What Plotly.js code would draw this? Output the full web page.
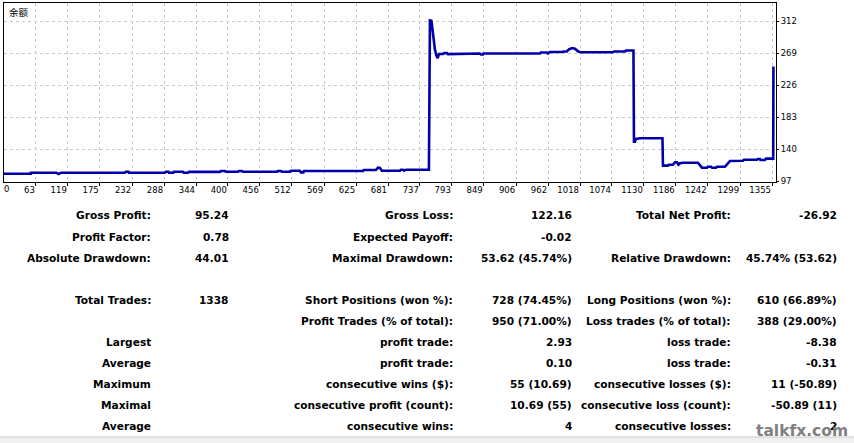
<!DOCTYPE html>
<html>
<head>
<meta charset="utf-8">
<script src="https://cdn.plot.ly/plotly-3.0.1.min.js"></script>
<style>html,body{margin:0;padding:0;background:#fff;}#chart{width:854px;height:443px;}</style>
</head>
<body>
<div id="chart"></div>
<script>
// ---- chart data (trade number, balance) ----
const balanceX = [7,54.2,54.2,99.0,102.5,107.8,219.2,221.0,225.4,226.2,289.4,291.2,295.6,296.5,304.4,305.2,321.0,322.8,329.8,331.6,386.0,387.7,394.7,396.5,417.6,419.3,424.6,426.3,486.0,487.8,493.0,494.8,508.8,510.6,526.4,528.2,532.5,533.4,637.0,638.7,659.8,663.3,666.8,670.3,702.0,703.7,707.2,709.0,712.5,752.8,754.6,757.2,758.1,759.9,761.6,763.4,766.0,768.1,770.4,777.4,779.2,784.4,786.2,821.3,823.1,842.4,844.1,847.7,848.5,947.7,949.4,960.0,961.7,965.2,986.3,989.8,995.0,998.6,1003.8,1009.1,1014.4,1017.9,1075.8,1077.6,1096.9,1098.7,1111.8,1112.7,1114.5,1116.2,1123.3,1162.7,1163.6,1172.4,1174.1,1181.1,1184.7,1188.2,1190.8,1193.5,1198.7,1225.0,1226.8,1232.1,1240.9,1242.6,1247.9,1249.7,1256.7,1258.4,1272.5,1276.0,1281.3,1304.0,1305.7,1328.6,1330.3,1333.8,1334.7,1342.6,1344.3,1357.1,1357.5];
const balanceY = [107.2,107.2,108.6,108.6,106.8,108.6,108.6,109.9,109.9,108.6,108.6,109.9,109.9,108.6,108.6,109.9,109.9,108.6,108.6,109.7,109.7,110.8,110.8,109.9,109.9,110.8,110.8,109.9,109.9,110.8,110.8,109.9,109.9,111.2,111.2,109.0,109.0,110.8,110.8,112.2,112.2,115.3,114.9,111.2,111.2,112.6,112.6,111.2,112.6,112.6,312.8,312.4,307.0,295.9,282.4,273.4,265.4,262.3,267.7,267.7,269.0,269.0,267.7,267.7,268.5,268.5,267.1,267.1,268.5,268.5,269.8,269.8,268.5,270.4,270.4,271.2,271.2,274.1,275.7,274.8,271.4,270.2,270.2,271.2,271.2,272.5,272.5,150.2,150.2,153.8,154.8,154.8,118.0,118.0,119.3,119.3,122.5,122.5,119.3,121.2,122.0,122.0,120.2,115.3,115.3,116.6,116.6,115.3,115.3,116.6,116.6,120.2,124.3,124.7,126.0,126.0,126.9,126.9,125.6,125.6,127.4,127.4,251.0];

const xTickVals = [63,119,175,232,288,344,400,456,512,569,625,681,737,793,849,906,962,1018,1074,1130,1186,1242,1299,1355];
const xTickText = ["63","119","175","232","288","344","400","456","512","569","625","681","737","793","849","906","962","1018","1074","1130","1186","1242","1299","1355"];
const xZeroLabel = ["0"];
const yTickVals = [97,140,183,226,269,312];
const yTickText = ["97","140","183","226","269","312"];
const chartTitle = "余额";

// ---- report table ----
const col1Labels = ["Gross Profit:","Profit Factor:","Absolute Drawdown:","","Total Trades:","","Largest","Average","Maximum","Maximal","Average"];
const col1Values = ["95.24","0.78","44.01","","1338","","","","","",""];
const col2Labels = ["Gross Loss:","Expected Payoff:","Maximal Drawdown:","","Short Positions (won %):","Profit Trades (% of total):","profit trade:","profit trade:","consecutive wins ($):","consecutive profit (count):","consecutive wins:"];
const col2Values = ["122.16","-0.02","53.62 (45.74%)","","728 (74.45%)","950 (71.00%)","2.93","0.10","55 (10.69)","10.69 (55)","4"];
const col3Labels = ["Total Net Profit:","","Relative Drawdown:","","Long Positions (won %):","Loss trades (% of total):","loss trade:","loss trade:","consecutive losses ($):","consecutive loss (count):","consecutive losses:"];
const col3Values = ["-26.92","","45.74% (53.62)","","610 (66.89%)","388 (29.00%)","-8.38","-0.31","11 (-50.89)","-50.89 (11)","2"];
const watermark = "talkfx.com";

// ---- layout helpers (pixel -> paper) ----
const PL = 4, PR = 776, PT = 3, PB = 182;
const px = v => (v - PL) / (PR - PL);
const py = v => (PB - v) / (PB - PT);

const tableFont = {family: "DejaVu Sans", size: 10.6, color: "#000", weight: "bold"};
const rowY = [215.5,236.5,257.5,278.5,299.5,320.5,341.5,362.5,383.5,404.5,425.5];
const colRight = [152,230,454,573,732,838];
const cols = [col1Labels,col1Values,col2Labels,col2Values,col3Labels,col3Values];

const annotations = [];
cols.forEach((col, ci) => {
  col.forEach((t, ri) => {
    if (!t) return;
    annotations.push({xref:"paper", yref:"paper", x: px(colRight[ci]+1), y: py(rowY[ri]),
      xanchor:"right", yanchor:"middle", showarrow:false, text:t, font:tableFont});
  });
});
annotations.push({xref:"paper", yref:"paper", x: px(7), y: py(12), xanchor:"left", yanchor:"middle",
  showarrow:false, text: chartTitle, font:{family:"Noto Sans CJK SC", size:9.5, color:"#000"}});
annotations.push({xref:"paper", yref:"paper", x: px(850), y: py(431), xanchor:"right", yanchor:"middle",
  showarrow:false, text: watermark, font:{family:"DejaVu Sans", size:15.5, color:"#808080", weight:"bold"}});

const axisFont = {family:"DejaVu Sans", size:8.5, color:"#000"};
const xRange = [7, 1362];

const traces = [
  {x: balanceX, y: balanceY, type:"scatter", mode:"lines", line:{color:"#0000aa", width:2.6}, hoverinfo:"skip"},
  {x: [], y: [], xaxis:"x2", type:"scatter", mode:"lines", hoverinfo:"skip"}
];

const layout = {
  width: 854, height: 443,
  margin: {l: PL, r: 854-PR, t: PT, b: 443-PB, pad: 0},
  paper_bgcolor:"#fff", plot_bgcolor:"#fff",
  showlegend:false,
  xaxis: {range: xRange, tickvals: xTickVals, ticktext: xTickText, ticks:"outside", ticklen:3, tickcolor:"#000",
    showline:true, linecolor:"#000", linewidth:1, mirror:true, showgrid:true, gridcolor:"#c8c8c8",
    griddash:"3px,3px", gridwidth:1, zeroline:false, tickfont: axisFont, ticklabelposition:"outside left", fixedrange:true},
  xaxis2: {range: xRange, overlaying:"x", anchor:"y", side:"bottom", tickvals:[xRange[0]], ticktext: xZeroLabel,
    ticks:"", showline:false, showgrid:false, zeroline:false, tickfont: axisFont, ticklabelposition:"outside right", fixedrange:true},
  yaxis: {range: [96.1, 336.2], side:"right", tickvals: yTickVals, ticktext: yTickText, ticks:"outside", ticklen:2,
    tickcolor:"#000", showline:true, linecolor:"#000", linewidth:1, mirror:true, showgrid:true, gridcolor:"#c8c8c8",
    griddash:"3px,3px", gridwidth:1, zeroline:false, tickfont: axisFont, fixedrange:true},
  shapes: [
    {type:"rect", xref:"paper", yref:"paper", x0: px(0), x1: px(854), y0: py(437), y1: py(443), fillcolor:"#f0f0f0", line:{width:0}, layer:"below"},
    {type:"line", xref:"paper", yref:"paper", x0: px(0), x1: px(854), y0: py(437), y1: py(437), line:{color:"#c8c8c8", width:1}}
  ],
  annotations: annotations
};

Plotly.newPlot("chart", traces, layout, {displayModeBar:false, staticPlot:true});
</script>
</body>
</html>
